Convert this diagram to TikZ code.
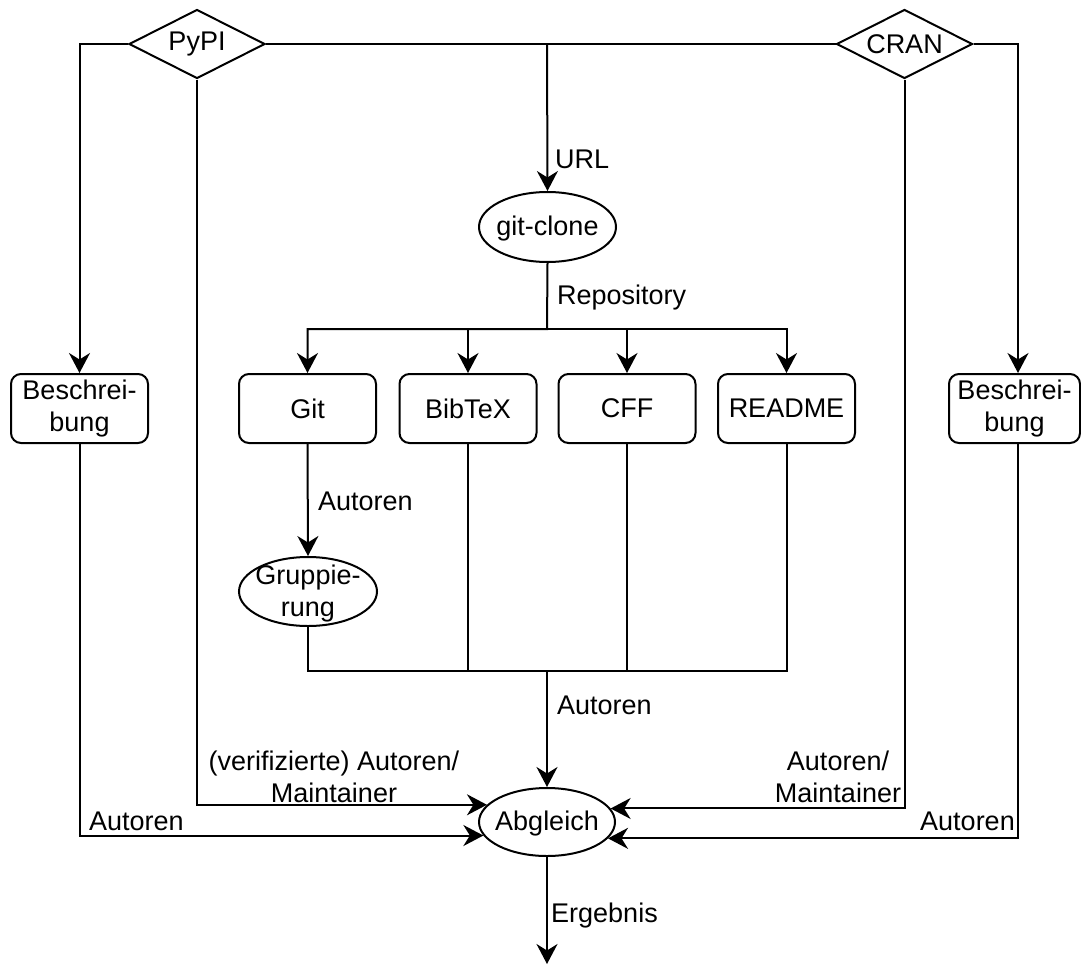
\documentclass[tikz,border=0pt]{standalone}
\usepackage{fontspec}
\setmainfont{Liberation Sans}
\usetikzlibrary{shapes.geometric,arrows.meta,calc}
\begin{document}
\begin{tikzpicture}[x=1pt,y=-1pt,
  every node/.style={font=\fontsize{27}{32.5}\selectfont},
  ln/.style={line width=2pt},
  arr/.style={ln,-{Stealth[length=20pt,width=21pt,inset=6.5pt]}},
  rbox/.style={draw,line width=2pt,rounded corners=10pt,minimum width=137pt,minimum height=69pt,inner sep=0pt,align=center},
  ell/.style={draw,ellipse,line width=2pt,inner sep=0pt},
  dia/.style={draw,diamond,line width=2pt,minimum width=136pt,minimum height=69pt,inner sep=0pt,shape aspect=2},
  lbl/.style={inner sep=0pt,align=center},
  inl/.style={inner sep=0pt,align=center,yshift=-2pt}]
\useasboundingbox (0,0) rectangle (1081,966);

% nodes
\node[dia] (pypi) at (197,44) {PyPI};
\node[dia] (cran) at (904.5,44) {CRAN};
\node[ell,minimum width=137pt,minimum height=70pt,label={[inl]center:{git-clone}}] (gc) at (547.5,227) {};
\node[rbox] (lb) at (79.5,408.5) {Beschrei-\\bung};
\node[rbox] (git) at (307.5,408.5) {Git};
\node[rbox] (bib) at (468,408.5) {BibTeX};
\node[rbox] (cff) at (627,408.5) {CFF};
\node[rbox] (rdm) at (786.5,408.5) {README};
\node[rbox,minimum width=131pt] (rb) at (1014.5,408.5) {Beschrei-\\bung};
\node[ell,minimum width=138pt,minimum height=69pt,label={[inl]center:{Gruppie-\\rung}}] (grp) at (308,591.5) {};
\node[ell,minimum width=136pt,minimum height=68pt,label={[inl]center:{Abgleich}}] (abg) at (547,822) {};

% helper coordinates
\coordinate (tj) at (547,44);
\coordinate (br) at (547,329);
\coordinate (cl) at (547,671);
\coordinate (rbx) at (1018,0);
\coordinate (out) at (547,964);

% connectors
\draw[arr] (pypi.west) -| (lb.north);
\draw[ln] (pypi.east) -- (tj);
\draw[ln] (cran.west) -- (tj);
\draw[arr] (tj) -- (gc.north);
\draw[arr] (cran.east) -| (rb.north -| rbx);
\draw[arr] (gc.south) -- (br) -| (git.north);
\draw[arr] (br) -| (bib.north);
\draw[arr] (br) -| (cff.north);
\draw[arr] (br) -| (rdm.north);
\draw[arr] (git.south) -- (grp.north);
\draw[ln] (grp.south) |- (cl);
\draw[ln] (bib.south) |- (cl);
\draw[ln] (cff.south) |- (cl);
\draw[ln] (rdm.south) |- (cl);
\draw[arr] (cl) -- (abg.north);
\draw[arr] (pypi.south) |- (abg.164.7);
\draw[arr] (lb.south) |- (abg.192.4);
\draw[arr] (cran.south) |- (abg.12.7);
\draw[arr] (rb.south -| rbx) |- (abg.345.1);
\draw[arr] (abg.south) -- (out);

% labels
\node[lbl,anchor=base west] (tURL) at (555,168) {URL};
\node[lbl,anchor=base west] (tRepo) at (557,304) {Repository};
\node[lbl,anchor=base west] (tAutG) at (318,510) {Autoren};
\node[lbl,anchor=base west] (tAutC) at (557,714) {Autoren};
\node[lbl] (tVer) at (334,777) {(verifizierte) Autoren/\\Maintainer};
\node[lbl] (tMaint) at (838,777) {Autoren/\\Maintainer};
\node[lbl,anchor=base west] (tAutL) at (89,830) {Autoren};
\node[lbl,anchor=base west] (tAutR) at (920,830) {Autoren};
\node[lbl,anchor=base west] (tErg) at (551,922) {Ergebnis};
\end{tikzpicture}
\end{document}
